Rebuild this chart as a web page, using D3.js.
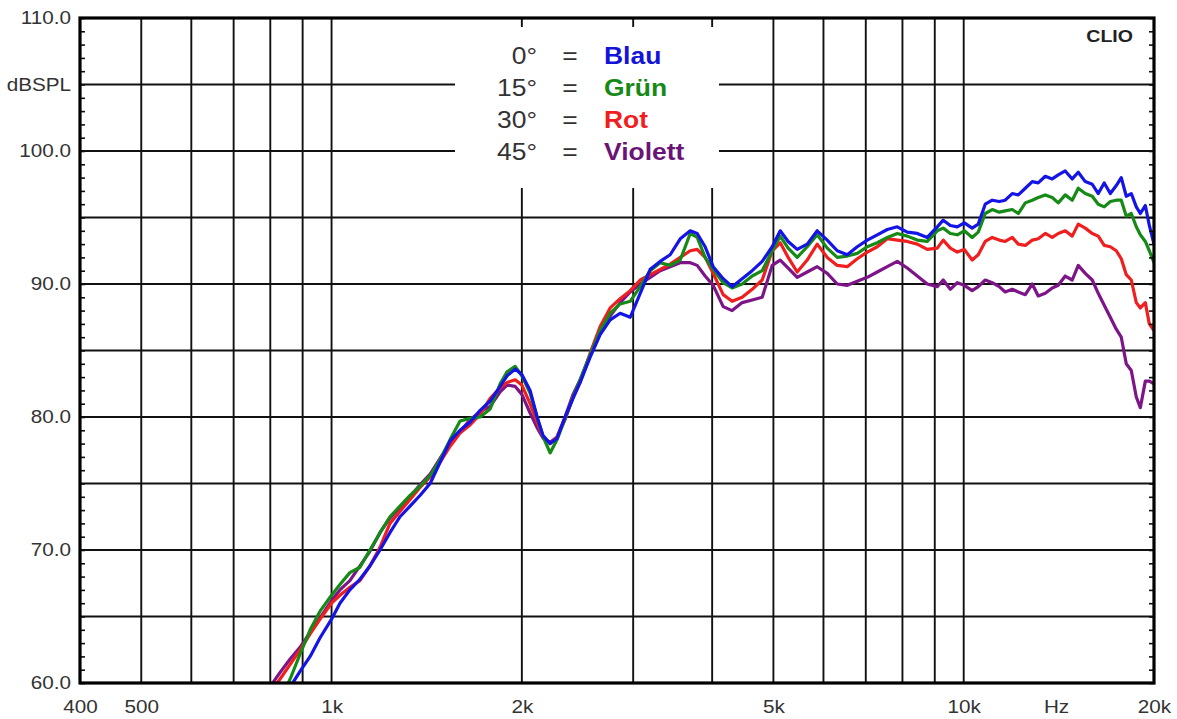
<!DOCTYPE html>
<html>
<head>
<meta charset="utf-8">
<script src="https://cdn.jsdelivr.net/npm/d3@7"></script>
<style>
body{margin:0;background:#fff;}
svg{display:block;}
text{font-family:Arial,"Liberation Sans",sans-serif;}
</style>
</head>
<body>
<svg id="chart" width="1177" height="719"></svg>
<script>
// frequency points (Hz), shared by all four curves
let freqs=[799,829,860,892,925,959,1000,1031,1069,1109,1150,1193,1237,1283,1331,1380,1432,1485,1540,1597,1656,1718,1782,1848,1895,1952,2000,2061,2114,2161,2217,2274,2341,2410,2473,2565,2660,2759,2861,2968,3078,3192,3310,3433,3561,3693,3788,3899,4015,4164,4302,4462,4628,4800,4978,5126,5276,5452,5655,5865,6083,6309,6543,6786,7038,7299,7570,7851,8142,8444,8757,9082,9281,9524,9770,10022,10313,10544,10816,11094,11382,11632,11934,12200,12515,12836,13119,13459,13805,14111,14475,14848,15177,15570,15972,16324,16684,17058,17432,17752,18079,18412,18751,19028,19378,19663,20000];

let blau=[57.5,58.3,59.7,60.9,62.0,63.4,64.8,66.0,67.0,67.8,68.8,70.0,71.3,72.5,73.3,74.1,75.0,76.6,78.2,79.0,79.6,80.5,81.2,82.3,83.1,83.6,83.2,82.0,80.0,78.6,78.0,78.4,80.0,81.4,82.6,84.5,86.2,87.3,87.8,87.5,89.3,91.1,91.7,92.2,93.4,94.0,93.8,92.8,91.3,90.4,89.8,90.4,91.0,91.7,92.8,94.0,93.2,92.6,93.0,94.0,93.3,92.5,92.2,92.8,93.3,93.7,94.1,94.3,93.9,93.8,93.5,94.3,94.8,94.4,94.3,94.6,94.2,94.5,96.0,96.3,96.2,96.3,96.8,96.7,97.2,97.7,97.6,98.1,97.9,98.2,98.5,97.9,98.4,97.7,97.5,96.8,97.6,96.8,97.4,98.0,96.6,96.8,95.8,95.3,95.9,94.4,93.0];

let gruen=[57.0,58.7,60.3,62.2,64.0,65.4,66.6,67.4,68.3,68.7,70.0,71.3,72.5,73.3,74.1,74.8,75.6,76.8,78.3,79.7,79.9,80.0,80.6,82.5,83.4,83.8,83.1,81.8,80.0,78.5,77.3,78.3,79.9,81.5,82.8,84.7,86.5,87.8,88.5,88.7,89.8,91.0,91.6,91.4,91.8,93.8,93.5,92.0,91.1,90.1,89.7,90.0,90.6,91.0,92.5,93.6,92.7,92.0,92.8,93.7,92.7,92.0,92.1,92.3,92.8,93.1,93.5,93.8,93.6,93.3,93.2,94.0,94.2,93.8,93.7,94.0,93.5,93.9,95.3,95.6,95.4,95.5,95.6,95.3,96.1,96.3,96.5,96.7,96.5,96.1,96.7,96.3,97.2,96.8,96.6,96.0,95.8,96.2,96.3,96.3,95.1,95.3,94.3,93.7,93.2,92.5,91.6];

let rot=[59.3,60.3,61.4,62.5,63.7,64.8,66.0,66.6,67.2,67.7,68.8,70.2,72.0,72.9,73.8,74.7,75.5,76.6,77.8,78.8,79.4,80.2,81.4,82.2,82.6,82.8,82.4,81.0,79.6,78.5,78.0,78.5,79.8,81.5,82.6,84.8,86.8,88.2,88.9,89.5,90.3,90.7,91.1,91.5,92.0,92.5,92.6,92.0,90.8,89.2,88.7,89.0,89.6,90.3,92.5,93.1,92.0,90.9,91.8,93.0,92.0,91.4,91.3,91.9,92.4,92.8,93.4,93.3,93.2,93.0,92.6,92.7,93.3,92.7,92.4,92.6,91.8,92.2,93.2,93.5,93.3,93.2,93.5,93.0,92.9,93.3,93.4,93.8,93.5,93.8,94.0,93.6,94.5,94.2,93.8,93.6,92.9,92.8,92.5,91.9,90.7,90.3,88.6,88.2,88.6,87.0,86.5];

let violett=[59.7,60.8,61.8,62.7,63.8,64.9,66.2,67.0,67.7,68.8,69.9,71.3,72.4,73.2,74.0,74.9,75.7,76.9,78.0,78.9,79.8,80.4,80.8,81.9,82.4,82.3,81.7,80.3,79.2,78.4,78.1,78.5,80.0,81.7,82.8,84.7,86.3,87.6,88.6,89.4,90.0,90.5,91.0,91.3,91.6,91.6,91.4,90.6,89.9,88.3,88.0,88.6,88.8,89.0,91.4,91.8,91.2,90.5,90.9,91.3,90.8,90.0,89.9,90.2,90.5,90.9,91.3,91.7,91.2,90.6,90.0,89.8,90.3,89.6,90.1,89.9,89.5,89.8,90.3,90.1,89.8,89.4,89.6,89.4,89.2,90.0,89.1,89.3,89.7,89.9,90.6,90.3,91.4,90.8,90.3,89.3,88.4,87.5,86.6,86.0,84.0,83.5,81.5,80.7,82.7,82.7,82.5];

let seriesNames=["violett","rot","gruen","blau"];
let seriesColors={blau:"#1414e6",gruen:"#168a16",rot:"#f01e1e",violett:"#7d1488"};
let seriesData={blau:blau,gruen:gruen,rot:rot,violett:violett};

let legAngles=["0°","15°","30°","45°"];
let legWords=["Blau","Grün","Rot","Violett"];
let legColors=["#1414d8","#168a16","#f01e1e","#6a1478"];

let xGrid=[500,600,700,800,900,1000,2000,3000,4000,5000,6000,7000,8000,9000,10000];
let yGrid=[65,70,75,80,85,90,95,100,105];
let xTickVals=[400,500,1000,2000,5000,10000,14000,20000];
let xTickText=["400","500","1k","2k","5k","10k","Hz","20k"];
let yTickVals=[60,70,80,90,100,105,110];

let svg=d3.select("#chart");
let L=80,R=1154,T=18,B=683;
let x=d3.scaleLog().domain([400,20000]).range([L,R]);
let y=d3.scaleLinear().domain([60,110]).range([B,T]);
let sx=1.15; // text in the picture is slightly wide

// grid
svg.append("g").selectAll("line").data(xGrid).enter().append("line")
  .attr("x1",d=>x(d)).attr("x2",d=>x(d)).attr("y1",T).attr("y2",B)
  .attr("stroke","#111").attr("stroke-width",1.9);
svg.append("g").selectAll("line").data(yGrid).enter().append("line")
  .attr("x1",L).attr("x2",R).attr("y1",d=>y(d)).attr("y2",d=>y(d))
  .attr("stroke","#111").attr("stroke-width",1.9);

// legend box hides the grid
svg.append("rect").attr("x",455).attr("y",27).attr("width",264).attr("height",161).attr("fill","#fff");

let leg=svg.append("g");
legAngles.forEach((a,i)=>{
  let yy=55+i*32+8.5;
  leg.append("text").text(a).attr("text-anchor","end").attr("transform",`translate(537,${yy}) scale(${sx},1)`)
    .style("font-size","23px").style("fill","#333");
  leg.append("text").text("=").attr("text-anchor","middle").attr("transform",`translate(570,${yy}) scale(${sx},1)`)
    .style("font-size","23px").style("fill","#333");
  leg.append("text").text(legWords[i]).attr("transform",`translate(604,${yy}) scale(${sx},1)`)
    .style("font-size","23px").style("font-weight","bold").style("fill",legColors[i]);
});

// curves
svg.append("clipPath").attr("id","clip").append("rect").attr("x",L).attr("y",T).attr("width",R-L).attr("height",B-T);
let line=d3.line().x((d,i)=>x(freqs[i])).y(d=>y(d));
svg.append("g").attr("clip-path","url(#clip)").selectAll("path").data(seriesNames).enter().append("path")
  .attr("d",k=>line(seriesData[k])).attr("fill","none").attr("stroke",k=>seriesColors[k])
  .attr("stroke-width",3.2).attr("stroke-linejoin","round");

// minor ticks on both sides
svg.append("g").attr("transform",`translate(${L},0)`)
  .call(d3.axisRight(y).ticks(50).tickSize(5).tickFormat(""))
  .call(g=>g.select(".domain").remove()).selectAll("line").attr("stroke","#111").attr("stroke-width",1.6);
svg.append("g").attr("transform",`translate(${R},0)`)
  .call(d3.axisLeft(y).ticks(50).tickSize(5).tickFormat(""))
  .call(g=>g.select(".domain").remove()).selectAll("line").attr("stroke","#111").attr("stroke-width",1.6);

// frame
svg.append("rect").attr("x",L).attr("y",T).attr("width",R-L).attr("height",B-T)
  .attr("fill","none").attr("stroke","#000").attr("stroke-width",3.2);

// y labels
let ya=svg.append("g").attr("transform",`translate(${L},0)`)
  .call(d3.axisLeft(y).tickValues(yTickVals).tickSize(0).tickPadding(9)
    .tickFormat(d=>d===105?"dBSPL":d.toFixed(1)));
ya.select(".domain").remove();
ya.selectAll("text").style("font-size","18px").style("font-family","Arial,'Liberation Sans',sans-serif")
  .style("fill","#333").attr("transform",`scale(${sx},1)`).attr("x",-9/sx);

// x labels
let xa=svg.append("g").attr("transform",`translate(0,${B})`)
  .call(d3.axisBottom(x).tickValues(xTickVals).tickSize(0).tickPadding(17)
    .tickFormat((d,i)=>xTickText[i]));
xa.select(".domain").remove();
xa.selectAll("text").style("font-size","18px").style("font-family","Arial,'Liberation Sans',sans-serif")
  .style("fill","#333").attr("transform",`scale(${sx},1)`);

svg.append("text").text("CLIO").attr("text-anchor","end").attr("transform",`translate(1133,42) scale(${sx},1)`)
  .style("font-size","17px").style("font-weight","bold").style("fill","#222");
</script>
</body>
</html>
